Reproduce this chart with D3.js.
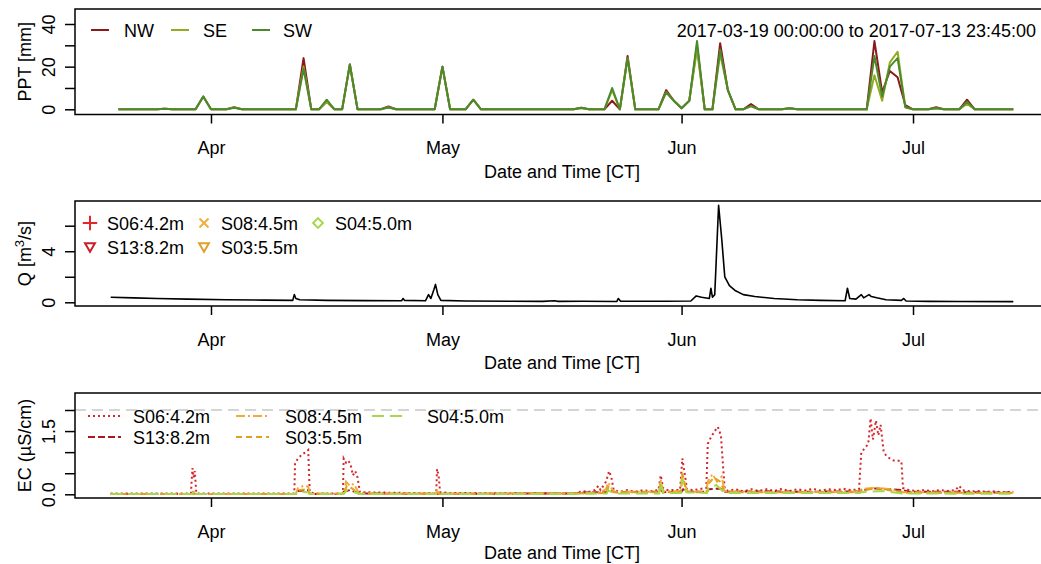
<!DOCTYPE html>
<html>
<head>
<meta charset="utf-8">
<script src="https://cdnjs.cloudflare.com/ajax/libs/d3/7.8.5/d3.min.js"></script>
<style>
body { margin: 0; background: #fff; }
svg text { font-family: "Liberation Sans", Arial, sans-serif; font-size: 18px; fill: #000; }
</style>
</head>
<body>
<div id="chart"></div>
<script>
var w = 1041, h = 564;
var boxLeft = 75, boxRight = 1049;

// --- data -------------------------------------------------------------
var rangeLabel = "2017-03-19 00:00:00 to 2017-07-13 23:45:00";
var monthTicks = ["2017-04-01", "2017-05-01", "2017-06-01", "2017-07-01"];

// daily precipitation totals [mm], one value per day 2017-03-20 .. 2017-07-14
var pptNW = [0,0,0,0,0,0,0.3,0,0,0, 0,6,0,0,0,1,0,0,0,0, 0,0,0,0,24,0,0,3.5,0,0,
  21,0,0,0,0,1.3,0,0,0,0, 0,0,20,0,0,0,4.5,0,0,0, 0,0,0,0,0,0,0,0,0,0,
  0.7,0,0,0,4,0,25,0,0,0, 0,9,4,0.5,4,30,0,0,31,9, 0,0,2.5,0,0,0,0,0.5,0,0,
  0,0,0,0,0,0,0,0,32,8, 18,15,2,0,0,0,1,0,0,0, 4.5,0,0,0,0,0,0];
var pptSE = [0,0,0,0,0,0,0.3,0,0,0, 0,6,0,0,0,0.8,0,0,0,0, 0,0,0,0,20,0,0,3.5,0,0,
  21,0,0,0,0,1,0,0,0,0, 0,0,20,0,0,0,4.5,0,0,0, 0,0,0,0,0,0,0,0,0,0,
  0.5,0,0,0,9,0,24,0,0,0, 0,8,4,0.5,4,28,0,0,26,9, 0,0,1.5,0,0,0,0,0.5,0,0,
  0,0,0,0,0,0,0,0,16,4, 22,27,1,0,0,0,0.5,0,0,0, 2.5,0,0,0,0,0,0];
var pptSW = [0,0,0,0,0,0,0.3,0,0,0, 0,6,0,0,0,0.7,0,0,0,0, 0,0,0,0,19,0,0,4.5,0,0,
  21,0,0,0,0,0.8,0,0,0,0, 0,0,20,0,0,0,4.5,0,0,0, 0,0,0,0,0,0,0,0,0,0,
  0.7,0,0,0,10,0,24,0,0,0, 0,8,4,0.5,4,32,0,0,28,9, 0,0,1.5,0,0,0,0,0.5,0,0,
  0,0,0,0,0,0,0,0,25,6, 20,24,1,0,0,0,0.5,0,0,0, 3.5,0,0,0,0,0,0];
var pptNames = ["NW", "SE", "SW"];
var pptColors = ["#8b1a1a", "#94aa22", "#4b8a2c"];

// discharge [m3/s]: [days since 2017-03-19 00:00, value]
var qPts = [[0,0.4],[3,0.35],[6,0.3],[10,0.25],[15,0.2],[20,0.17],[23.6,0.15],[23.8,0.6],[24,0.3],[24.5,0.2],
  [28,0.15],[33,0.13],[37.7,0.12],[37.9,0.3],[38.1,0.15],[40.8,0.12],[41.2,0.6],[41.5,0.3],[41.9,1.0],[42.1,1.4],
  [42.4,0.6],[42.8,0.15],[46,0.1],[52,0.08],[56,0.07],[57.5,0.12],[58,0.07],[61.2,0.08],[65.6,0.06],[65.8,0.3],[66.1,0.08],
  [72,0.08],[75.2,0.1],[75.9,0.5],[76.6,0.4],[77.6,0.3],[77.8,1.1],[78,0.4],[78.3,0.6],[78.8,7.6],[79.2,5],
  [79.6,2],[80.2,1.3],[81,0.9],[82,0.6],[83.5,0.45],[86,0.3],[89,0.2],[92,0.15],[95.2,0.12],[95.5,1.1],
  [95.8,0.3],[96.6,0.25],[97.3,0.6],[97.6,0.35],[98.3,0.6],[98.6,0.45],[99.3,0.35],[100.5,0.2],[102.5,0.15],
  [102.8,0.3],[103.1,0.1],[106,0.07],[110,0.06],[117,0.05]];

// electrical conductivity [uS/cm]: [days since 2017-03-19 00:00, value]
var ecS06 = [[0,0.02],[10.4,0.02],[10.5,0.35],[10.6,0.62],[10.75,0.4],[10.9,0.55],[11.1,0.02],
  [23.8,0.02],[23.9,0.75],[24.3,0.85],[24.8,0.95],[25.3,1.0],[25.6,1.05],[25.8,0.05],[26.5,0.02],
  [30.1,0.02],[30.2,0.85],[30.5,0.75],[30.8,0.8],[31.1,0.7],[31.4,0.45],[31.7,0.55],[32,0.4],[32.3,0.05],
  [42.2,0.02],[42.3,0.6],[42.5,0.45],[42.7,0.05],[44,0.03],[60.5,0.02],[61,0.08],[62,0.06],[62.8,0.1],
  [63.2,0.2],[63.5,0.1],[64.2,0.3],[64.6,0.55],[64.9,0.4],[65.2,0.1],[66,0.06],[67,0.1],[68,0.06],[69,0.1],
  [70,0.07],[71,0.1],[71.3,0.45],[71.6,0.15],[72,0.1],[73.8,0.1],[74.1,0.85],[74.4,0.5],[74.7,0.12],
  [75.5,0.1],[77.2,0.15],[77.4,1.2],[77.8,1.35],[78.3,1.5],[78.7,1.6],[79.1,1.4],[79.4,0.6],[79.6,0.12],
  [80,0.08],[81,0.12],[82,0.07],[83,0.12],[84,0.08],[85,0.12],[86,0.08],[87,0.13],[88,0.08],[89,0.12],
  [90,0.09],[91,0.13],[92,0.09],[93,0.12],[94,0.1],[95,0.13],[96,0.1],[97,0.12],[97.3,1.0],[97.8,1.1],
  [98.2,1.2],[98.5,1.8],[98.8,1.3],[99.2,1.75],[99.5,1.4],[99.8,1.65],[100.2,1.0],[100.6,0.9],[101,0.85],
  [101.5,0.8],[102,0.8],[102.5,0.78],[102.7,0.15],[103.5,0.1],[104.5,0.08],[105.5,0.1],[106.5,0.07],
  [107.5,0.1],[108.5,0.08],[109.5,0.1],[110,0.2],[110.4,0.1],[111.5,0.07],[112.5,0.08],[113.5,0.06],
  [114.5,0.07],[115.5,0.05],[117,0.06]];
var ecS13 = [[0,0.01],[10.6,0.01],[10.7,0.05],[10.9,0.01],[24,0.01],[24.2,0.08],[25.6,0.1],[25.8,0.01],
  [30.1,0.01],[30.2,0.06],[31,0.1],[32.2,0.02],[42,0.01],[60,0.02],[62,0.05],[64.3,0.05],[64.5,0.1],
  [65.5,0.05],[71.1,0.06],[71.3,0.1],[71.6,0.05],[74,0.06],[74.2,0.12],[74.8,0.06],[77.3,0.06],[77.5,0.12],
  [79,0.14],[79.6,0.06],[85,0.07],[90,0.06],[97.2,0.07],[97.5,0.1],[99,0.14],[101,0.12],[102.7,0.1],
  [103.5,0.06],[109.8,0.06],[110,0.08],[110.5,0.05],[117,0.04]];
var ecS08 = [[0,0.01],[10.6,0.01],[10.7,0.08],[10.9,0.01],[24,0.01],[24.3,0.15],[25,0.2],[25.6,0.18],
  [25.8,0.02],[30.2,0.02],[30.5,0.3],[31,0.2],[31.5,0.25],[32.2,0.02],[42.2,0.02],[42.3,0.08],[42.6,0.01],
  [60,0.02],[63.5,0.05],[64.2,0.12],[64.5,0.28],[64.9,0.15],[65.2,0.06],[71.1,0.06],[71.3,0.35],[71.6,0.07],
  [73.9,0.07],[74.1,0.5],[74.4,0.25],[74.8,0.06],[77.2,0.06],[77.4,0.3],[78,0.48],[78.6,0.3],[79.2,0.42],
  [79.6,0.07],[85,0.05],[97.1,0.06],[97.3,0.12],[99,0.16],[101,0.12],[102.7,0.05],[110,0.04],[117,0.03]];
var ecS03 = [[0,0.01],[24,0.01],[24.4,0.1],[25.4,0.12],[25.8,0.01],[30.2,0.01],[30.6,0.2],[31.2,0.15],
  [32.2,0.01],[60,0.02],[64.3,0.03],[64.5,0.18],[65.2,0.05],[71.1,0.05],[71.3,0.25],[71.6,0.05],[73.9,0.05],
  [74.1,0.5],[74.5,0.15],[74.8,0.05],[77.3,0.05],[77.5,0.25],[78.2,0.4],[79,0.3],[79.6,0.05],[97.1,0.05],
  [97.3,0.1],[99.5,0.14],[102.7,0.04],[117,0.03]];
var ecS04 = [[0,0.01],[10.6,0.01],[10.7,0.1],[10.9,0.01],[24,0.01],[24.5,0.06],[25.6,0.05],[25.8,0.01],
  [30.2,0.01],[30.6,0.1],[31.5,0.06],[32.2,0.01],[42.2,0.01],[42.3,0.06],[42.6,0.01],[60,0.01],[64.3,0.02],
  [64.5,0.1],[65.2,0.02],[71.1,0.02],[71.3,0.3],[71.6,0.03],[73.9,0.03],[74.1,0.38],[74.6,0.05],[77.3,0.03],
  [77.5,0.15],[78.5,0.22],[79.6,0.03],[97.1,0.03],[97.3,0.05],[100,0.08],[102.7,0.02],[117,0.01]];
var ecSeries = [ecS06, ecS13, ecS08, ecS03, ecS04];
var ecNames = ["S06:4.2m", "S13:8.2m", "S08:4.5m", "S03:5.5m", "S04:5.0m"];
var ecColors = ["#d7262b", "#a8191e", "#f2a93b", "#e0a21c", "#a9d64b"];
var ecDash = ["2,3", "7,3", "9,3,2,3", "6,4", "12,6"];
var ecThreshold = 2;

// --- scales -----------------------------------------------------------
var t0 = Date.UTC(2017, 2, 19);
function dayToDate(d) { return new Date(t0 + d * 864e5); }

var x = d3.scaleUtc()
  .domain([new Date(t0), new Date(Date.UTC(2017, 6, 14))])
  .range([110.7, 1013.3]);

var svg = d3.select("#chart").append("svg").attr("width", w).attr("height", h)
  .style("background", "#fff");

function drawFrame(top, bottom, y, yTicks, yLabels, titleY) {
  var g = svg.append("g");
  g.append("g").attr("transform", "translate(0," + bottom + ")")
    .call(d3.axisBottom(x).tickValues(monthTicks.map(function (s) { return new Date(s); }))
      .tickSize(9).tickFormat(d3.utcFormat("%b")))
    .call(function (a) {
      a.select(".domain").remove();
      a.selectAll("line").attr("stroke", "#000").attr("stroke-width", 1.5);
      a.selectAll("text").attr("y", 27).attr("dy", "0.71em").style("font-size", "18px")
        .style("font-family", "Liberation Sans, Arial, sans-serif");
    });
  g.append("g").attr("transform", "translate(" + boxLeft + ",0)")
    .call(d3.axisLeft(y).tickValues(yTicks).tickSize(10)
      .tickFormat(function (d) { return yLabels.indexOf(d) >= 0 ? yFmt(d, yLabels) : ""; }))
    .call(function (a) {
      a.select(".domain").remove();
      a.selectAll("line").attr("stroke", "#000").attr("stroke-width", 1.5);
      a.selectAll("text").attr("x", 0).attr("y", -20).attr("dy", 0)
        .attr("transform", "rotate(-90)").attr("text-anchor", "middle")
        .style("font-size", "18px").style("font-family", "Liberation Sans, Arial, sans-serif");
    });
  g.append("text").attr("x", (boxLeft + boxRight) / 2).attr("y", titleY || bottom + 63)
    .attr("text-anchor", "middle").text("Date and Time [CT]");
  g.append("rect").attr("x", boxLeft).attr("y", top)
    .attr("width", boxRight - boxLeft).attr("height", bottom - top)
    .attr("fill", "none").attr("stroke", "#000").attr("stroke-width", 1.5);
  return g;
}

function yFmt(d, labels) {
  return labels[1] === 1.5 ? d3.format(".1f")(d) : d;
}

function yTitle(cy, parts) {
  var t = svg.append("text").attr("transform", "translate(31," + cy + ") rotate(-90)")
    .attr("text-anchor", "middle");
  parts.forEach(function (p) {
    var s = t.append("tspan").text(p[0]);
    if (p[1]) s.attr("dy", -7).style("font-size", "13px");
    if (p[2]) s.attr("dy", 7);
  });
}

// --- panel 1: precipitation ------------------------------------------
var p1 = { top: 9, bottom: 114.5 };
var yP = d3.scaleLinear().domain([0, 40]).range([109.3, 24]);
var pptDates = d3.utcDay.range(new Date(Date.UTC(2017, 2, 20)), new Date(Date.UTC(2017, 6, 15)));
var pptLine = d3.line().x(function (d, i) { return x(pptDates[i]); }).y(function (d) { return yP(d); });

[pptNW, pptSE, pptSW].forEach(function (s, k) {
  svg.append("path").attr("d", pptLine(s)).attr("fill", "none")
    .attr("stroke", pptColors[k]).attr("stroke-width", 2).attr("stroke-linejoin", "round");
});
drawFrame(p1.top, p1.bottom, yP, [0, 10, 20, 30, 40], [0, 20, 40]);
yTitle((p1.top + p1.bottom) / 2, [["PPT [mm]"]]);

var legP = [[91, 124], [171, 203], [252, 283]];
pptNames.forEach(function (n, k) {
  svg.append("line").attr("x1", legP[k][0]).attr("x2", legP[k][0] + 18).attr("y1", 30).attr("y2", 30)
    .attr("stroke", pptColors[k]).attr("stroke-width", 2);
  svg.append("text").attr("x", legP[k][1]).attr("y", 36.5).text(n);
});
svg.append("text").attr("x", 1036).attr("y", 37).attr("text-anchor", "end").text(rangeLabel);

// --- panel 2: discharge ----------------------------------------------
var p2 = { top: 201, bottom: 306 };
var yQ = d3.scaleLinear().domain([0, 6]).range([302.3, 225.7]);
var tsLine = function (y) {
  return d3.line().x(function (d) { return x(dayToDate(d[0])); }).y(function (d) { return y(d[1]); });
};
svg.append("path").attr("d", tsLine(yQ)(qPts)).attr("fill", "none")
  .attr("stroke", "#000").attr("stroke-width", 1.6).attr("stroke-linejoin", "round");
drawFrame(p2.top, p2.bottom, yQ, [0, 2, 4, 6], [0, 4]);
yTitle((p2.top + p2.bottom) / 2, [["Q [m"], ["3", true], ["/s]", false, true]]);

var qLeg = [
  { sym: d3.symbolPlus, rot: 0, c: "#e3262c", x: 90, y: 223, t: "S06:4.2m", s: 70 },
  { sym: d3.symbolTimes, rot: 0, c: "#f2ae3c", x: 204, y: 223, t: "S08:4.5m", s: 55 },
  { sym: d3.symbolDiamond2, rot: 0, c: "#a7d84c", x: 318, y: 223, t: "S04:5.0m", s: 60 },
  { sym: d3.symbolTriangle2, rot: 180, c: "#c8202a", x: 90, y: 246, t: "S13:8.2m", s: 70 },
  { sym: d3.symbolTriangle2, rot: 180, c: "#dfa12a", x: 204, y: 246, t: "S03:5.5m", s: 70 }
];
qLeg.forEach(function (l) {
  svg.append("path").attr("d", d3.symbol().type(l.sym).size(l.s)())
    .attr("transform", "translate(" + l.x + "," + l.y + ") rotate(" + l.rot + ")")
    .attr("fill", "none").attr("stroke", l.c).attr("stroke-width", 2);
  svg.append("text").attr("x", l.x + 17).attr("y", (l.rot ? 247 : 223) + 6.5).text(l.t);
});

// --- panel 3: electrical conductivity --------------------------------
var p3 = { top: 393, bottom: 498 };
var yE = d3.scaleLinear().domain([0, 2]).range([494.3, 410]);
svg.append("line").attr("x1", boxLeft).attr("x2", boxRight)
  .attr("y1", yE(ecThreshold)).attr("y2", yE(ecThreshold))
  .attr("stroke", "#c8c8c8").attr("stroke-width", 1.5).attr("stroke-dasharray", "11,6");
ecSeries.forEach(function (s, k) {
  svg.append("path").attr("d", tsLine(yE)(s)).attr("fill", "none")
    .attr("stroke", ecColors[k]).attr("stroke-width", 2).attr("stroke-dasharray", ecDash[k]);
});
drawFrame(p3.top, p3.bottom, yE, [0, 0.5, 1, 1.5, 2], [0, 1.5], 559);
yTitle((p3.top + p3.bottom) / 2, [["EC (\u00b5S/cm)"]]);

// [series index, line start, text start, row y]
var ecLeg = [[0, 88, 133, 416], [2, 236, 285, 416], [4, 372, 427, 416], [1, 88, 133, 437], [3, 236, 285, 437]];
ecLeg.forEach(function (l) {
  var k = l[0];
  svg.append("line").attr("x1", l[1]).attr("x2", l[1] + 33).attr("y1", l[3]).attr("y2", l[3])
    .attr("stroke", ecColors[k]).attr("stroke-width", 2).attr("stroke-dasharray", ecDash[k]);
  svg.append("text").attr("x", l[2]).attr("y", l[3] + 6.5).text(ecNames[k]);
});
</script>
</body>
</html>
